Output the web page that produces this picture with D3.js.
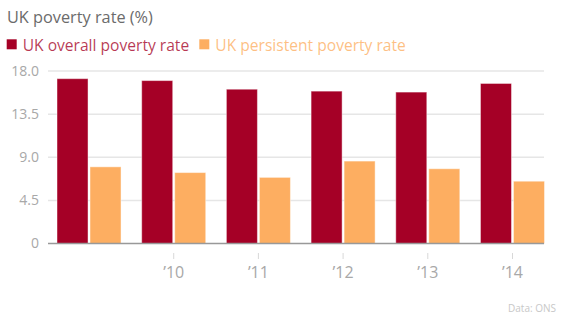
<!DOCTYPE html>
<html>
<head>
<meta charset="utf-8">
<script src="https://cdn.jsdelivr.net/npm/d3@7"></script>
<style>
  html, body { margin: 0; padding: 0; background: #fff; }
  svg { display: block; font-family: "Open Sans", sans-serif; }
</style>
</head>
<body>
<svg id="chart" width="564" height="322"></svg>
<script>
const categories = ["2009", "2010", "2011", "2012", "2013", "2014"];
const tickLabels = ["", "\u201910", "\u201911", "\u201912", "\u201913", "\u201914"];
const seriesNames = ["UK overall poverty rate", "UK persistent poverty rate"];
const overallRate = [17.2, 17.0, 16.1, 15.9, 15.8, 16.7];
const persistentRate = [8.0, 7.4, 6.9, 8.6, 7.8, 6.5];
const yTicks = [0, 4.5, 9.0, 13.5, 18.0];
const colors = ["#a50026", "#fdae61"];

const svg = d3.select("#chart");

const x = d3.scaleBand().domain(categories).range([57, 544.5]).paddingInner(0.244).paddingOuter(0);
const xInner = d3.scaleBand().domain(seriesNames).range([0, x.bandwidth()]).paddingInner(0.06);
const y = d3.scaleLinear().domain([0, 18]).range([243.5, 71]);

// gridlines
svg.append("g").selectAll("line").data(yTicks.filter(d => d > 0)).join("line")
  .attr("x1", 48).attr("x2", 544)
  .attr("y1", d => y(d)).attr("y2", d => y(d))
  .attr("stroke", "#e6e6e6").attr("stroke-width", 1.5);

// y labels
svg.append("g").selectAll("text").data(yTicks).join("text")
  .attr("x", 39).attr("y", d => y(d)).attr("dy", "0.35em")
  .attr("text-anchor", "end")
  .attr("font-size", 14).attr("fill", "#a8a8a8")
  .text(d => d === 0 ? "0" : d3.format(".1f")(d));

// bars
const rows = categories.map((c, i) => ({cat: c, vals: [overallRate[i], persistentRate[i]]}));
const groups = svg.append("g").selectAll("g").data(rows).join("g")
  .attr("transform", d => `translate(${x(d.cat)},0)`);
groups.selectAll("rect").data(d => d.vals.map((v, j) => ({name: seriesNames[j], v, j}))).join("rect")
  .attr("x", d => xInner(d.name))
  .attr("width", xInner.bandwidth())
  .attr("y", d => y(d.v))
  .attr("height", d => y(0) - y(d.v))
  .attr("fill", d => colors[d.j])
  .attr("stroke", "rgba(255,255,255,0.45)").attr("stroke-width", 1);

// baseline
svg.append("line").attr("x1", 48).attr("x2", 544).attr("y1", y(0)).attr("y2", y(0))
  .attr("stroke", "#999").attr("stroke-width", 1.5);

// x axis
const xAxis = d3.axisBottom(x)
  .tickValues(categories.filter((c, i) => tickLabels[i] !== ""))
  .tickFormat(c => tickLabels[categories.indexOf(c)])
  .tickSizeInner(6).tickSizeOuter(0).tickPadding(8);
const gx = svg.append("g").attr("transform", "translate(0,253)").call(xAxis);
gx.select(".domain").remove();
gx.selectAll(".tick line").attr("stroke", "#d8d8d8");
gx.selectAll(".tick text").attr("font-size", 16).attr("fill", "#a8a8a8")
  .attr("font-family", "'Open Sans', sans-serif");

// title
svg.append("text").attr("x", 7).attr("y", 22.5)
  .attr("font-size", 16.3).attr("fill", "#6b6b6b")
  .text("UK poverty rate (%)");

// legend
const legendX = [6.7, 199.3];
seriesNames.forEach((n, i) => {
  svg.append("rect").attr("x", legendX[i]).attr("y", 39.3).attr("width", 10).attr("height", 10)
    .attr("fill", colors[i]);
  svg.append("text").attr("x", legendX[i] + 16).attr("y", 50.6)
    .attr("font-size", 15.6).attr("fill", colors[i]).attr("fill-opacity", 0.78)
    .text(n);
});

// source
svg.append("text").attr("x", 556).attr("y", 311.5).attr("text-anchor", "end")
  .attr("font-size", 10).attr("fill", "#c8c8c8").text("Data: ONS");
</script>
</body>
</html>
